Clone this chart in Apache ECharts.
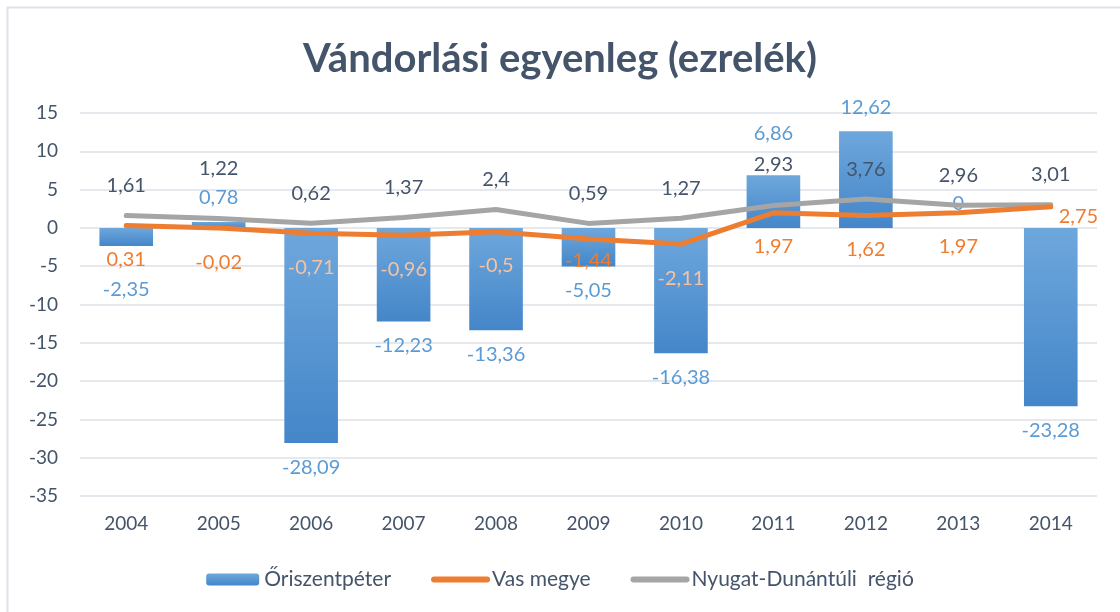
<!DOCTYPE html>
<html>
<head>
<meta charset="utf-8">
<script src="https://cdn.jsdelivr.net/npm/echarts@6/dist/echarts.min.js"></script>
<style>
  html, body { margin: 0; padding: 0; background: #fff; }
  #chart { width: 1120px; height: 612px; }
</style>
</head>
<body>
<div id="chart"></div>
<script>
// Vándorlási egyenleg - oszlop + két vonal

const years = ['2004', '2005', '2006', '2007', '2008', '2009', '2010', '2011', '2012', '2013', '2014'];
const oriszentpeter = [-2.35, 0.78, -28.09, -12.23, -13.36, -5.05, -16.38, 6.86, 12.62, 0, -23.28];
const vasMegye = [0.31, -0.02, -0.71, -0.96, -0.5, -1.44, -2.11, 1.97, 1.62, 1.97, 2.75];
const regio = [1.61, 1.22, 0.62, 1.37, 2.4, 0.59, 1.27, 2.93, 3.76, 2.96, 3.01];
const yTicks = { min: -35, max: 15, step: 5 };

const textColor = '#44546A';
const blue = '#5B9BD5';
const orange = '#ED7D31';
const gray = '#A5A5A5';
const fontFam = 'Lato, "Open Sans", sans-serif';
const labelSize = 20;

const fmt = v => String(v).replace('.', ',');

// kézi eltolások néhány címkénél (mint az eredetin)
const barNudge = { 0: 20, 7: -18 };
const regioNudge = { 1: -20, 7: -11 };
const vasNudge = { 5: -12 };

const chart = echarts.init(document.getElementById('chart'));

const barData = oriszentpeter.map((v, i) => ({
    value: v,
    label: {
        position: v >= 0 ? 'top' : 'bottom',
        distance: 14,
        offset: [0, barNudge[i] || 0]
    }
}));

const regioData = regio.map((v, i) => ({
    value: v,
    label: { position: 'top', distance: 20, offset: [0, regioNudge[i] || 0] }
}));

const vasData = vasMegye.map((v, i) => {
    const last = i === vasMegye.length - 1;
    // ha a címke az oszlopra esik, világosabb narancs
    const labelVal = v - 4.5;
    const onBar = oriszentpeter[i] < labelVal;
    return {
        value: v,
        label: last ? { position: 'right', distance: 8, offset: [0, 10] } : {
            position: 'bottom',
            distance: 24,
            offset: [0, vasNudge[i] || 0],
            color: onBar ? '#F6C3A0' : orange
        }
    };
});

const option = {
    animation: false,
    title: {
        text: 'Vándorlási egyenleg (ezrelék)',
        left: 'center',
        top: 34,
        textStyle: { color: textColor, fontSize: 40, fontWeight: 'bold', fontFamily: fontFam }
    },
    graphic: [{
        type: 'polyline',
        shape: { points: [[7.5, 612], [7.5, 7.5], [1120, 7.5]] },
        style: { stroke: '#DEE2E8', lineWidth: 2, fill: null },
        silent: true
    }],
    legend: {
        bottom: 17,
        left: 'center',
        itemWidth: 53,
        itemHeight: 12,
        itemGap: 40,
        textStyle: { color: textColor, fontSize: 21, fontFamily: fontFam },
        data: [
            { name: 'Őriszentpéter' },
            { name: 'Vas megye', itemStyle: { opacity: 0 }, lineStyle: { width: 6, cap: 'round' } },
            { name: 'Nyugat-Dunántúli  régió', itemStyle: { opacity: 0 }, lineStyle: { width: 6, cap: 'round' } }
        ]
    },
    grid: { left: 80, right: 23, top: 113, bottom: 116, containLabel: false },
    xAxis: {
        type: 'category',
        data: years,
        axisLine: { show: false },
        axisTick: { show: false },
        axisLabel: { color: textColor, fontSize: 19, fontFamily: fontFam, margin: 18 }
    },
    yAxis: {
        type: 'value',
        min: yTicks.min,
        max: yTicks.max,
        interval: yTicks.step,
        axisLine: { show: false },
        axisTick: { show: false },
        axisLabel: { color: textColor, fontSize: 19, fontFamily: fontFam, margin: 22 },
        splitLine: { lineStyle: { color: '#DDE1E7', width: 1.5 } }
    },
    series: [{
        name: 'Őriszentpéter',
        type: 'bar',
        barWidth: '58%',
        data: barData,
        itemStyle: {
            color: new echarts.graphic.LinearGradient(0, 0, 0, 1, [
                { offset: 0, color: '#6EA7DC' },
                { offset: 1, color: '#4486C9' }
            ])
        },
        label: {
            show: true,
            color: blue,
            fontSize: labelSize,
            fontFamily: fontFam,
            formatter: p => fmt(p.value)
        },
        z: 2
    }, {
        name: 'Vas megye',
        type: 'line',
        data: vasData,
        symbol: 'circle',
        symbolSize: 0,
        showSymbol: true,
        lineStyle: { color: orange, width: 5, cap: 'round', join: 'round' },
        itemStyle: { color: orange },
        label: {
            show: true,
            color: orange,
            fontSize: labelSize,
            fontFamily: fontFam,
            formatter: p => fmt(p.value)
        },
        z: 4
    }, {
        name: 'Nyugat-Dunántúli  régió',
        type: 'line',
        data: regioData,
        symbol: 'circle',
        symbolSize: 0,
        showSymbol: true,
        lineStyle: { color: gray, width: 5, cap: 'round', join: 'round' },
        itemStyle: { color: gray },
        label: {
            show: true,
            color: textColor,
            fontSize: labelSize,
            fontFamily: fontFam,
            formatter: p => fmt(p.value)
        },
        z: 3
    }]
};

chart.setOption(option);
</script>
</body>
</html>
